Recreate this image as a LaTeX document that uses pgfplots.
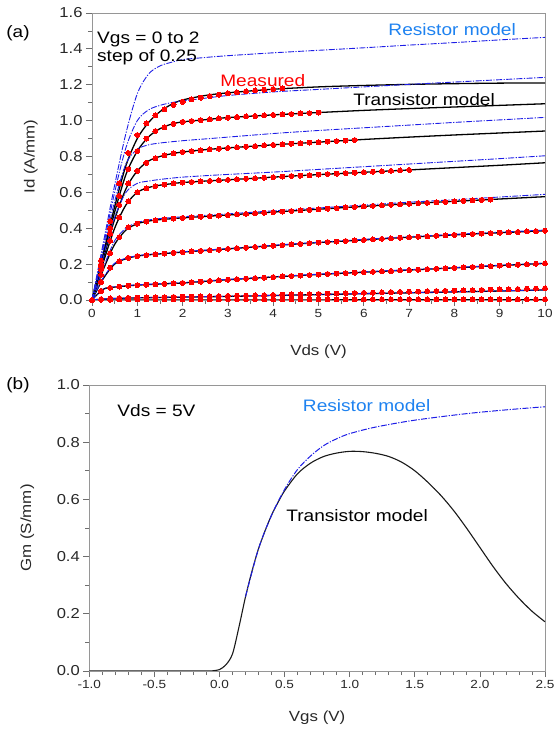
\documentclass[border=0pt]{standalone}
\usepackage{pgfplots}
\pgfplotsset{compat=1.18}
\usepackage{fontspec}
\setmainfont[FakeStretch=1.15]{Liberation Sans}
\definecolor{resblue}{RGB}{30,30,230}
\definecolor{reslabel}{RGB}{30,130,240}
\definecolor{framegray}{RGB}{150,150,150}
\definecolor{tickgray}{RGB}{110,110,110}
\definecolor{txtgray}{RGB}{40,40,40}
\newcommand{\annfont}{\fontsize{16.6bp}{19bp}\selectfont}
\pgfplotsset{
  mystyle/.style={
    scale only axis, anchor=south west,
    tick align=outside, tick pos=left,
    axis line style={draw=framegray, line width=0.8bp},
    every tick/.style={draw=tickgray, line width=0.8bp},
    major tick length=6bp, minor tick length=4bp,
    yticklabel style={font=\fontsize{14.4bp}{16bp}\selectfont, text=txtgray},
    xticklabel style={font=\fontsize{11.8bp}{14bp}\selectfont, text=txtgray},
    label style={font=\fontsize{14.7bp}{17bp}\selectfont, text=txtgray},
    clip=true,
  },
  modelB/.style={draw=black, line width=1.3bp, smooth, tension=0.5, no marks},
  modelR/.style={draw=resblue, line width=0.9bp, smooth, tension=0.5, no marks, dash pattern=on 6bp off 1.5bp on 1.2bp off 1.5bp},
  meas/.style={only marks, mark=*, mark size=2.5bp, red, mark options={draw=red, fill=red, line width=0pt}},
}
\begin{document}
\begin{tikzpicture}
\path[use as bounding box] (0,0) rectangle (554bp,733bp);
% ---------------- (a) ----------------
\begin{axis}[mystyle,
  at={(92bp,433bp)}, width=453bp, height=287bp,
  xmin=0, xmax=10, ymin=0, ymax=1.6,
  xtick={0,1,2,3,4,5,6,7,8,9,10},
  xticklabels={0,1,2,3,4,5,6,7,8,9,10},
  minor x tick num=1,
  ytick={0,0.2,0.4,0.6,0.8,1.0,1.2,1.4,1.6},
  yticklabels={0.0,0.2,0.4,0.6,0.8,1.0,1.2,1.4,1.6},
  minor y tick num=1,
  xlabel={Vds (V)}, ylabel={Id (A/mm)},
  xlabel style={at={(axis description cs:0.5,-0.181)}, anchor=center},
  ylabel style={at={(axis description cs:-0.135,0.5)}, anchor=center},
]
% transistor model (black)
\addplot[modelB] coordinates {(0,0)(0.25,0.26)(0.5,0.52)(0.75,0.75)(1,0.90)(1.25,0.99)(1.5,1.05)(1.75,1.09)(2,1.115)(2.5,1.14)(3,1.155)(4,1.175)(5,1.188)(6,1.196)(7,1.202)(8,1.206)(9,1.209)(10,1.21)};
\addplot[modelB] coordinates {(0,0)(0.25,0.25)(0.5,0.49)(0.75,0.70)(1,0.83)(1.25,0.91)(1.5,0.955)(1.75,0.98)(2,0.993)(2.5,1.005)(3,1.017)(4,1.032)(5,1.045)(6,1.057)(7,1.067)(8,1.076)(9,1.085)(10,1.094)};
\addplot[modelB] coordinates {(0,0)(0.25,0.23)(0.5,0.45)(0.75,0.62)(1,0.72)(1.25,0.775)(1.5,0.80)(1.75,0.815)(2,0.825)(2.5,0.838)(3,0.848)(4,0.865)(5,0.88)(6,0.895)(7,0.908)(8,0.92)(9,0.931)(10,0.942)};
\addplot[modelB] coordinates {(0,0)(0.25,0.21)(0.5,0.40)(0.75,0.53)(1,0.60)(1.25,0.627)(1.5,0.64)(1.75,0.648)(2,0.655)(2.5,0.663)(3,0.67)(4,0.685)(5,0.699)(6,0.712)(7,0.725)(8,0.738)(9,0.751)(10,0.765)};
\addplot[modelB] coordinates {(0,0)(0.25,0.17)(0.5,0.31)(0.75,0.39)(1,0.425)(1.25,0.44)(1.5,0.448)(1.75,0.453)(2,0.458)(2.5,0.466)(3,0.474)(4,0.49)(5,0.506)(6,0.522)(7,0.537)(8,0.55)(9,0.563)(10,0.576)};
\addplot[modelB] coordinates {(0,0)(0.25,0.12)(0.5,0.20)(0.75,0.23)(1,0.245)(1.25,0.252)(1.5,0.257)(1.75,0.262)(2,0.267)(2.5,0.276)(3,0.285)(4,0.303)(5,0.32)(6,0.335)(7,0.35)(8,0.363)(9,0.375)(10,0.386)};
\addplot[modelB] coordinates {(0,0)(0.25,0.06)(0.5,0.072)(0.75,0.078)(1,0.083)(1.25,0.086)(1.5,0.089)(1.75,0.092)(2,0.095)(2.5,0.104)(3,0.113)(4,0.128)(5,0.142)(6,0.155)(7,0.167)(8,0.179)(9,0.192)(10,0.204)};
\addplot[modelB] coordinates {(0,0)(0.25,0.005)(0.5,0.008)(0.75,0.010)(1,0.012)(1.25,0.013)(1.5,0.014)(1.75,0.015)(2,0.016)(2.5,0.018)(3,0.02)(4,0.025)(5,0.03)(6,0.035)(7,0.04)(8,0.045)(9,0.05)(10,0.056)};
\addplot[modelB] coordinates {(0,0)(10,0.001)};
% resistor model (blue dash-dot)
\addplot[modelR] coordinates {(0,0)(0.25,0.32)(0.5,0.64)(0.75,0.93)(1,1.15)(1.25,1.26)(1.5,1.305)(1.75,1.325)(2,1.34)(2.5,1.352)(3,1.362)(4,1.378)(5,1.392)(6,1.406)(7,1.421)(8,1.435)(9,1.45)(10,1.464)};
\addplot[modelR] coordinates {(0,0)(0.25,0.30)(0.5,0.60)(0.75,0.85)(1,1.0)(1.25,1.06)(1.5,1.085)(1.75,1.10)(2,1.11)(2.5,1.125)(3,1.14)(4,1.16)(5,1.174)(6,1.188)(7,1.202)(8,1.215)(9,1.228)(10,1.241)};
\addplot[modelR] coordinates {(0,0)(0.25,0.28)(0.5,0.55)(0.75,0.76)(1,0.84)(1.25,0.865)(1.5,0.875)(1.75,0.882)(2,0.888)(2.5,0.898)(3,0.908)(4,0.928)(5,0.945)(6,0.96)(7,0.975)(8,0.99)(9,1.004)(10,1.018)};
\addplot[modelR] coordinates {(0,0)(0.25,0.24)(0.5,0.46)(0.75,0.60)(1,0.65)(1.25,0.663)(1.5,0.672)(1.75,0.679)(2,0.685)(2.5,0.693)(3,0.70)(4,0.713)(5,0.728)(6,0.743)(7,0.758)(8,0.773)(9,0.788)(10,0.804)};
\addplot[modelR] coordinates {(0,0)(0.25,0.18)(0.5,0.33)(0.75,0.40)(1,0.432)(1.25,0.446)(1.5,0.454)(1.75,0.459)(2,0.464)(2.5,0.472)(3,0.48)(4,0.497)(5,0.513)(6,0.529)(7,0.545)(8,0.559)(9,0.574)(10,0.589)};
\addplot[modelR] coordinates {(0,0)(0.25,0.125)(0.5,0.205)(0.75,0.233)(1,0.247)(1.25,0.254)(1.5,0.259)(1.75,0.264)(2,0.269)(2.5,0.278)(3,0.287)(4,0.305)(5,0.322)(6,0.338)(7,0.353)(8,0.366)(9,0.378)(10,0.39)};
\addplot[modelR] coordinates {(0,0)(0.25,0.062)(0.5,0.074)(0.75,0.08)(1,0.085)(1.25,0.088)(1.5,0.091)(1.75,0.094)(2,0.097)(2.5,0.106)(3,0.115)(4,0.130)(5,0.144)(6,0.157)(7,0.169)(8,0.181)(9,0.194)(10,0.206)};
\addplot[modelR] coordinates {(0,0)(0.25,0.006)(0.5,0.009)(0.75,0.011)(1,0.013)(1.25,0.014)(1.5,0.015)(1.75,0.016)(2,0.017)(2.5,0.019)(3,0.021)(4,0.026)(5,0.031)(6,0.036)(7,0.041)(8,0.046)(9,0.051)(10,0.057)};
\addplot[modelR] coordinates {(0,0)(10,0)};
% measured (red dots)
\addplot[meas] coordinates {(0,0)(0.2,0.22)(0.4,0.44)(0.6,0.65)(0.8,0.82)(1,0.92)(1.2,0.985)(1.4,1.03)(1.6,1.063)(1.8,1.088)(2,1.105)(2.2,1.118)(2.4,1.128)(2.6,1.137)(2.8,1.145)(3,1.152)(3.2,1.158)(3.4,1.163)(3.6,1.168)(3.8,1.172)(4,1.176)(4.2,1.18)};
\addplot[meas] coordinates {(0.2,0.2)(0.4,0.4)(0.6,0.58)(0.8,0.73)(1,0.83)(1.2,0.9)(1.4,0.942)(1.6,0.963)(1.8,0.982)(2,0.993)(2.2,0.998)(2.4,1.003)(2.6,1.007)(2.8,1.012)(3,1.017)(3.2,1.020)(3.4,1.023)(3.6,1.026)(3.8,1.029)(4,1.032)(4.2,1.035)(4.4,1.037)(4.6,1.04)(4.8,1.042)(5,1.045)};
\addplot[meas] coordinates {(0.2,0.185)(0.4,0.37)(0.6,0.53)(0.8,0.65)(1,0.72)(1.2,0.765)(1.4,0.79)(1.6,0.806)(1.8,0.817)(2,0.825)(2.2,0.83)(2.4,0.835)(2.6,0.84)(2.8,0.844)(3,0.848)(3.2,0.851)(3.4,0.855)(3.6,0.858)(3.8,0.862)(4,0.865)(4.2,0.868)(4.4,0.871)(4.6,0.874)(4.8,0.877)(5,0.88)(5.2,0.883)(5.4,0.886)(5.6,0.889)(5.8,0.892)};
\addplot[meas] coordinates {(0.2,0.17)(0.4,0.33)(0.6,0.46)(0.8,0.55)(1,0.60)(1.2,0.622)(1.4,0.635)(1.6,0.643)(1.8,0.65)(2,0.655)(2.2,0.658)(2.4,0.661)(2.6,0.664)(2.8,0.667)(3,0.67)(3.2,0.673)(3.4,0.676)(3.6,0.679)(3.8,0.682)(4,0.685)(4.2,0.688)(4.4,0.691)(4.6,0.693)(4.8,0.696)(5,0.699)(5.2,0.702)(5.4,0.704)(5.6,0.707)(5.8,0.71)(6,0.712)(6.2,0.715)(6.4,0.717)(6.6,0.72)(6.8,0.722)(7,0.725)};
\addplot[meas] coordinates {(0.2,0.14)(0.4,0.26)(0.6,0.35)(0.8,0.405)(1,0.425)(1.2,0.437)(1.4,0.445)(1.6,0.45)(1.8,0.454)(2,0.458)(2.2,0.461)(2.4,0.464)(2.6,0.468)(2.8,0.471)(3,0.474)(3.2,0.477)(3.4,0.48)(3.6,0.484)(3.8,0.487)(4,0.49)(4.2,0.493)(4.4,0.496)(4.6,0.5)(4.8,0.503)(5,0.506)(5.2,0.509)(5.4,0.512)(5.6,0.516)(5.8,0.519)(6,0.522)(6.2,0.525)(6.4,0.528)(6.6,0.531)(6.8,0.534)(7,0.537)(7.2,0.54)(7.4,0.542)(7.6,0.545)(7.8,0.547)(8,0.55)(8.2,0.553)(8.4,0.555)(8.6,0.558)(8.8,0.56)};
\addplot[meas] coordinates {(0.2,0.1)(0.4,0.18)(0.6,0.215)(0.8,0.235)(1,0.245)(1.2,0.25)(1.4,0.255)(1.6,0.259)(1.8,0.263)(2,0.267)(2.2,0.271)(2.4,0.274)(2.6,0.278)(2.8,0.281)(3,0.285)(3.2,0.289)(3.4,0.292)(3.6,0.296)(3.8,0.299)(4,0.303)(4.2,0.306)(4.4,0.31)(4.6,0.313)(4.8,0.317)(5,0.32)(5.2,0.323)(5.4,0.326)(5.6,0.329)(5.8,0.332)(6,0.335)(6.2,0.338)(6.4,0.341)(6.6,0.344)(6.8,0.347)(7,0.35)(7.2,0.353)(7.4,0.355)(7.6,0.358)(7.8,0.36)(8,0.363)(8.2,0.365)(8.4,0.368)(8.6,0.37)(8.8,0.373)(9,0.375)(9.2,0.377)(9.4,0.379)(9.6,0.382)(9.8,0.384)(10,0.386)};
\addplot[meas] coordinates {(0.2,0.05)(0.4,0.068)(0.6,0.075)(0.8,0.08)(1,0.083)(1.2,0.085)(1.4,0.088)(1.6,0.09)(1.8,0.093)(2,0.095)(2.2,0.099)(2.4,0.102)(2.6,0.106)(2.8,0.109)(3,0.113)(3.2,0.116)(3.4,0.119)(3.6,0.122)(3.8,0.125)(4,0.128)(4.2,0.131)(4.4,0.134)(4.6,0.136)(4.8,0.139)(5,0.142)(5.2,0.145)(5.4,0.147)(5.6,0.15)(5.8,0.152)(6,0.155)(6.2,0.157)(6.4,0.16)(6.6,0.162)(6.8,0.165)(7,0.167)(7.2,0.169)(7.4,0.172)(7.6,0.174)(7.8,0.177)(8,0.179)(8.2,0.182)(8.4,0.184)(8.6,0.187)(8.8,0.189)(9,0.192)(9.2,0.194)(9.4,0.197)(9.6,0.199)(9.8,0.202)(10,0.204)};
\addplot[meas] coordinates {(0.2,0.005)(0.4,0.009)(0.6,0.011)(0.8,0.012)(1,0.013)(1.2,0.014)(1.4,0.015)(1.6,0.016)(1.8,0.017)(2,0.018)(2.2,0.019)(2.4,0.02)(2.6,0.021)(2.8,0.022)(3,0.023)(3.2,0.024)(3.4,0.025)(3.6,0.026)(3.8,0.027)(4,0.028)(4.2,0.030)(4.4,0.031)(4.6,0.032)(4.8,0.033)(5,0.034)(5.2,0.035)(5.4,0.036)(5.6,0.038)(5.8,0.039)(6,0.040)(6.2,0.041)(6.4,0.042)(6.6,0.044)(6.8,0.045)(7,0.046)(7.2,0.047)(7.4,0.049)(7.6,0.05)(7.8,0.051)(8,0.052)(8.2,0.054)(8.4,0.055)(8.6,0.056)(8.8,0.058)(9,0.059)(9.2,0.06)(9.4,0.061)(9.6,0.063)(9.8,0.064)(10,0.065)};
\addplot[meas] coordinates {(0.2,0.002)(0.4,0.002)(0.6,0.003)(0.8,0.003)(1,0.003)(1.2,0.003)(1.4,0.003)(1.6,0.003)(1.8,0.003)(2,0.003)(2.2,0.003)(2.4,0.003)(2.6,0.003)(2.8,0.003)(3,0.003)(3.2,0.003)(3.4,0.003)(3.6,0.003)(3.8,0.003)(4,0.003)(4.2,0.003)(4.4,0.003)(4.6,0.003)(4.8,0.003)(5,0.003)(5.2,0.003)(5.4,0.003)(5.6,0.003)(5.8,0.003)(6,0.003)(6.2,0.003)(6.4,0.003)(6.6,0.003)(6.8,0.003)(7,0.003)(7.2,0.003)(7.4,0.003)(7.6,0.003)(7.8,0.003)(8,0.003)(8.2,0.003)(8.4,0.003)(8.6,0.003)(8.8,0.003)(9,0.003)(9.2,0.003)(9.4,0.003)(9.6,0.003)(9.8,0.003)(10,0.004)};
% annotations
\node[anchor=west, align=left, font=\annfont, text=black, inner sep=0pt] at (axis cs:0.11,1.40) {Vgs = 0 to 2\\[-1bp]step of 0.25};
\node[font=\annfont, text=reslabel, inner sep=0pt] at (axis cs:7.95,1.505) {Resistor model};
\node[font=\annfont, text=red, inner sep=0pt] at (axis cs:3.77,1.226) {Measured};
\node[font=\annfont, text=black, inner sep=0pt] at (axis cs:7.33,1.115) {Transistor model};
\end{axis}
% ---------------- (b) ----------------
\begin{axis}[mystyle,
  at={(89.3bp,62bp)}, width=455.7bp, height=286bp,
  xmin=-1, xmax=2.5, ymin=0, ymax=1.0,
  xtick={-1,-0.5,0,0.5,1,1.5,2,2.5},
  xticklabels={-1.0,-0.5,0.0,0.5,1.0,1.5,2.0,2.5},
  minor x tick num=4,
  ytick={0,0.2,0.4,0.6,0.8,1.0},
  yticklabels={0.0,0.2,0.4,0.6,0.8,1.0},
  minor y tick num=1,
  xlabel={Vgs (V)}, ylabel={Gm (S/mm)},
  xlabel style={at={(axis description cs:0.5,-0.164)}, anchor=center},
  ylabel style={at={(axis description cs:-0.136,0.5)}, anchor=center},
]
\addplot[draw=black!90, line width=1.1bp, smooth, tension=0.5, no marks] coordinates {(-1,0)(-0.5,0)(-0.1,0)(-0.05,0.001)(0,0.005)(0.05,0.022)(0.1,0.06)(0.15,0.155)(0.2,0.26)(0.25,0.35)(0.3,0.428)(0.35,0.49)(0.4,0.545)(0.45,0.59)(0.5,0.63)(0.6,0.69)(0.7,0.727)(0.8,0.75)(0.9,0.762)(1.0,0.768)(1.1,0.767)(1.2,0.761)(1.3,0.75)(1.4,0.73)(1.5,0.70)(1.6,0.66)(1.7,0.614)(1.8,0.56)(1.9,0.498)(2.0,0.432)(2.1,0.366)(2.2,0.306)(2.3,0.254)(2.4,0.209)(2.5,0.172)};
\addplot[draw=resblue, line width=1.0bp, smooth, tension=0.5, no marks, dash pattern=on 6bp off 1.5bp on 1.2bp off 1.5bp] coordinates {(0.2,0.26)(0.3,0.428)(0.4,0.545)(0.5,0.635)(0.6,0.705)(0.7,0.752)(0.8,0.788)(0.9,0.812)(1.0,0.83)(1.2,0.853)(1.5,0.877)(1.9,0.90)(2.2,0.913)(2.5,0.924)};
\node[anchor=west, font=\annfont, text=black, inner sep=0pt] at (axis cs:-0.785,0.909) {Vds = 5V};
\node[font=\annfont, text=reslabel, inner sep=0pt] at (axis cs:1.13,0.927) {Resistor model};
\node[font=\annfont, text=black, inner sep=0pt] at (axis cs:1.057,0.545) {Transistor model};
\end{axis}
\node[font=\fontsize{16.5bp}{19bp}\selectfont] at (18bp,700bp) {(a)};
\node[font=\fontsize{16.5bp}{19bp}\selectfont] at (18bp,348bp) {(b)};
\end{tikzpicture}
\end{document}
